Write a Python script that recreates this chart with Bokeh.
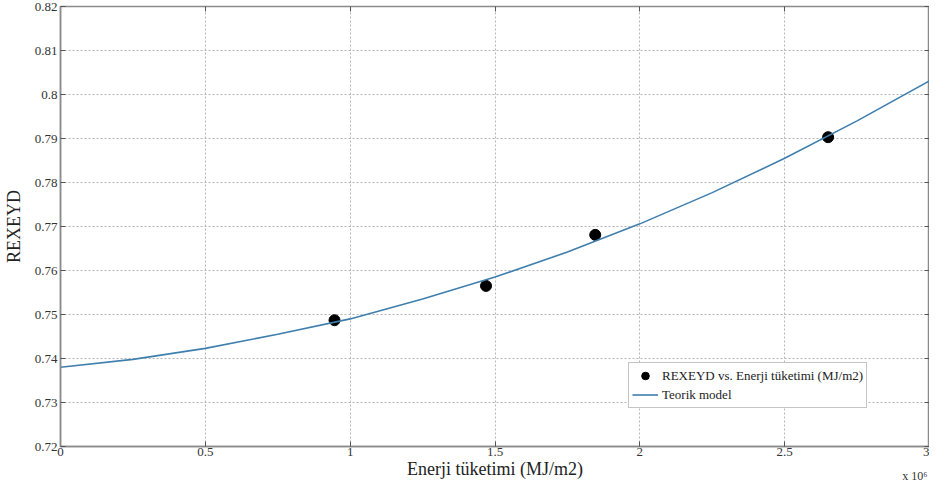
from bokeh.plotting import figure
from bokeh.models import (Range1d, FixedTicker, LinearAxis, Legend, LegendItem, Title)
from bokeh.embed import file_html
from bokeh.resources import INLINE

# measured data (x in units of 10^6 MJ/m2)
meas_x = [0.946, 1.469, 1.846, 2.650]
meas_y = [0.7487, 0.7565, 0.7681, 0.7903]

# theoretical model curve
model_x = [0.0, 0.25, 0.5, 0.75, 1.0, 1.25, 1.5, 1.75, 2.0, 2.25, 2.5, 2.75, 3.0]
model_y = [0.7380, 0.7398, 0.7423, 0.7455, 0.7490, 0.7535, 0.7585, 0.7642, 0.7706, 0.7777, 0.7855, 0.7940, 0.8031]

x_ticks = [0, 0.5, 1, 1.5, 2, 2.5, 3]
x_tick_labels = ["0", "0.5", "1", "1.5", "2", "2.5", "3"]
y_ticks = [0.72, 0.73, 0.74, 0.75, 0.76, 0.77, 0.78, 0.79, 0.80, 0.81, 0.82]
y_tick_labels = ["0.72", "0.73", "0.74", "0.75", "0.76", "0.77", "0.78", "0.79", "0.8", "0.81", "0.82"]
x_scale_note = "x 10⁶"

FONT = "Liberation Serif"

p = figure(width=929, height=481, output_backend="svg", toolbar_location=None,
           x_range=Range1d(0, 3), y_range=Range1d(0.72, 0.82),
           min_border_left=52, min_border_right=0, min_border_top=6, min_border_bottom=0)

p.outline_line_color = "#8a8a8a"
p.outline_line_width = 1.5

for ax, ticks, labels in ((p.xaxis[0], x_ticks, x_tick_labels), (p.yaxis[0], y_ticks, y_tick_labels)):
    ax.ticker = FixedTicker(ticks=ticks)
    ax.major_label_overrides = {t: l for t, l in zip(ticks, labels)}
    ax.major_label_text_font = FONT
    ax.major_label_text_font_size = "13px"
    ax.major_label_text_color = "#333333"
    ax.axis_line_color = "#8a8a8a"
    ax.axis_line_width = 1.5
    ax.major_tick_in = 5
    ax.major_tick_out = 0
    ax.major_tick_line_color = "#555555"
    ax.minor_tick_line_color = None
    ax.axis_label_text_font = FONT
    ax.axis_label_text_font_size = "18px"
    ax.axis_label_text_font_style = "normal"
    ax.axis_label_text_color = "#222222"

p.xaxis.axis_label = "Enerji tüketimi (MJ/m2)"
p.yaxis.axis_label = "REXEYD"
p.xaxis.major_label_standoff = 1
p.xaxis.axis_label_standoff = 0
p.yaxis.major_label_standoff = 3
p.yaxis.axis_label_standoff = 8

# box ticks on top and right (MATLAB style), no labels
top = LinearAxis(ticker=FixedTicker(ticks=x_ticks), major_label_overrides={t: "" for t in x_ticks},
                 major_label_text_font_size="1px", major_label_standoff=0,
                 axis_line_color="#8a8a8a", major_tick_in=5, major_tick_out=0,
                 major_tick_line_color="#555555", minor_tick_line_color=None)
right = LinearAxis(ticker=FixedTicker(ticks=y_ticks), major_label_overrides={t: "" for t in y_ticks},
                   major_label_text_font_size="1px", major_label_standoff=0,
                   axis_line_color="#8a8a8a", major_tick_in=5, major_tick_out=0,
                   major_tick_line_color="#555555", minor_tick_line_color=None)
p.add_layout(top, "above")
p.add_layout(right, "right")

for g in (p.xgrid[0], p.ygrid[0]):
    g.grid_line_color = "#b5b5b5"
    g.grid_line_dash = "2 2"
    g.grid_line_width = 1
p.xgrid.ticker = FixedTicker(ticks=x_ticks)
p.ygrid.ticker = FixedTicker(ticks=y_ticks)

r_pts = p.scatter(meas_x, meas_y, size=11, marker="circle", fill_color="black", line_color="black")
r_line = p.line(model_x, model_y, line_color="#3f7fae", line_width=1.6)

legend = Legend(items=[LegendItem(label="REXEYD vs. Enerji tüketimi (MJ/m2)", renderers=[r_pts]),
                       LegendItem(label="Teorik model", renderers=[r_line])],
                location=(568, 38), label_text_font=FONT, label_text_font_size="13px",
                label_text_color="#222222", border_line_color="#8a8a8a", border_line_width=1,
                padding=3, spacing=0, glyph_height=19, glyph_width=26, label_height=19,
                label_standoff=4, margin=0, background_fill_alpha=1)
p.add_layout(legend, "center")

try:
    note = Title(text=x_scale_note, align="right", vertical_align="top", text_font=FONT,
                 text_font_size="12px", text_font_style="normal", text_color="#333333",
                 standoff=-26, offset=2)
except Exception:
    note = Title(text=x_scale_note, align="right", text_font=FONT, text_font_size="12px",
                 text_font_style="normal", text_color="#333333", standoff=0, offset=2)
p.add_layout(note, "below")

open("out.html", "w").write(file_html(p, INLINE))
